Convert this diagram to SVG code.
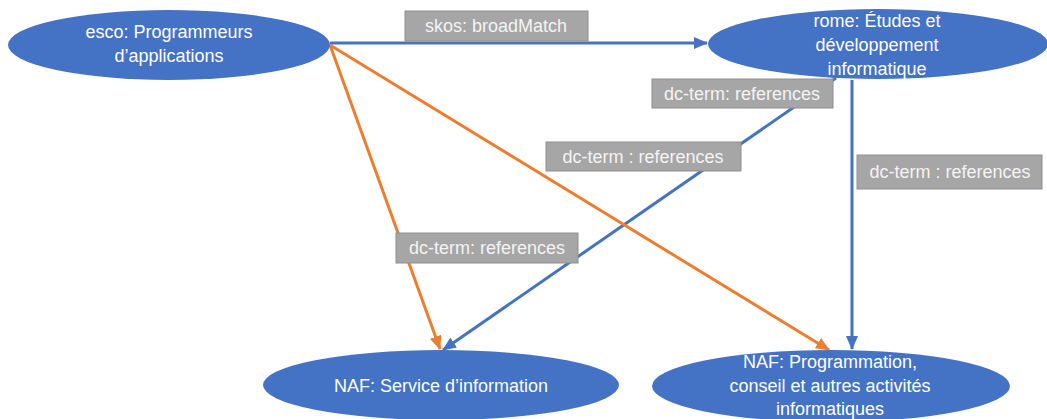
<svg xmlns="http://www.w3.org/2000/svg" width="1047" height="419" viewBox="0 0 1047 419">
<style>
.node{fill:#4472c4;}
.nt{fill:#ffffff;font-family:"Liberation Sans",Arial,sans-serif;font-size:18px;text-anchor:middle;}
.lb{fill:#a6a6a6;stroke:#8f8f8f;stroke-width:1;}
.lt{fill:#f4f4f4;font-family:"Liberation Sans",Arial,sans-serif;font-size:18px;text-anchor:middle;}
.blue{stroke:#4472c4;stroke-width:3;fill:none;marker-end:url(#ab);}
.orange{stroke:#ed7d31;stroke-width:3;fill:none;marker-end:url(#ao);}
</style>
<defs>
<marker id="ab" markerUnits="userSpaceOnUse" markerWidth="14" markerHeight="12" refX="13" refY="6" orient="auto">
<path d="M0,0 L14,6 L0,12 Z" fill="#4472c4"/>
</marker>
<marker id="ao" markerUnits="userSpaceOnUse" markerWidth="14" markerHeight="12" refX="13" refY="6" orient="auto">
<path d="M0,0 L14,6 L0,12 Z" fill="#ed7d31"/>
</marker>
</defs>
<rect width="1047" height="419" fill="#ffffff"/>
<g id="connectors">
<line class="blue" x1="330" y1="43" x2="707" y2="43"/>
<line class="blue" x1="852" y1="80" x2="852" y2="349"/>
<line class="blue" x1="836" y1="78" x2="443" y2="350"/>
<line class="orange" x1="330" y1="45" x2="440" y2="349"/>
<line class="orange" x1="330" y1="45" x2="829" y2="350"/>
</g>
<g id="labels">
<g id="label-broadmatch"><rect class="lb" x="405" y="11" width="183" height="30"/><text class="lt" x="496" y="32">skos: broadMatch</text></g>
<g id="label-ref1"><rect class="lb" x="652" y="79" width="181" height="29"/><text class="lt" x="742" y="100">dc-term: references</text></g>
<g id="label-ref2"><rect class="lb" x="546" y="142" width="195" height="29"/><text class="lt" x="643" y="163">dc-term : references</text></g>
<g id="label-ref3"><rect class="lb" x="396" y="233" width="182" height="30"/><text class="lt" x="487" y="254">dc-term: references</text></g>
<g id="label-ref4"><rect class="lb" x="857" y="155" width="185" height="34"/><text class="lt" x="950" y="178">dc-term : references</text></g>
</g>
<g id="node-esco">
<ellipse class="node" cx="169" cy="45" rx="161" ry="35"/>
<text class="nt" x="169" y="38">esco: Programmeurs</text>
<text class="nt" x="169" y="62">d’applications</text>
</g>
<g id="node-rome">
<ellipse class="node" cx="878" cy="44" rx="170" ry="35"/>
<text class="nt" x="877" y="27">rome: Études et</text>
<text class="nt" x="877" y="51">développement</text>
<text class="nt" x="877" y="75">informatique</text>
</g>
<g id="node-naf-service">
<ellipse class="node" cx="441" cy="385" rx="178" ry="35"/>
<text class="nt" x="441" y="392">NAF: Service d’information</text>
</g>
<g id="node-naf-prog">
<ellipse class="node" cx="831" cy="386" rx="179" ry="36"/>
<text class="nt" x="830" y="368">NAF: Programmation,</text>
<text class="nt" x="830" y="392">conseil et autres activités</text>
<text class="nt" x="830" y="415">informatiques</text>
</g>
</svg>
